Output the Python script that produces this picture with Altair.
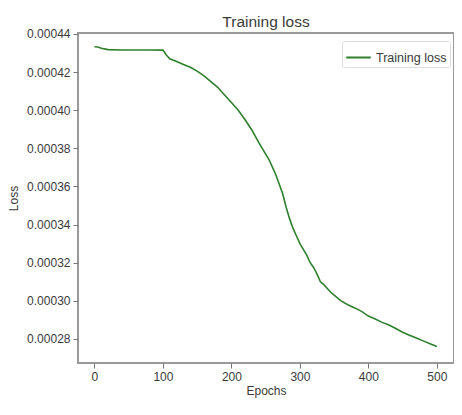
import altair as alt
import pandas as pd

epochs = [0, 5, 10, 20, 40, 60, 80, 100, 105, 110, 120, 130, 140, 150, 160, 170, 180, 190,
          200, 210, 220, 230, 240, 250, 255, 260, 265, 270, 275, 280, 285, 290, 295, 300,
          305, 310, 315, 320, 325, 330, 335, 340, 345, 350, 360, 370, 380, 390, 400, 410,
          420, 430, 440, 450, 460, 470, 480, 490, 500]
loss_e4 = [4.333, 4.332, 4.325, 4.318, 4.316, 4.316, 4.316, 4.315, 4.29, 4.27, 4.255, 4.24,
           4.225, 4.205, 4.18, 4.15, 4.12, 4.08, 4.04, 4.00, 3.95, 3.895, 3.83, 3.77, 3.74,
           3.70, 3.66, 3.61, 3.56, 3.49, 3.43, 3.38, 3.34, 3.30, 3.27, 3.24, 3.20, 3.175,
           3.14, 3.10, 3.085, 3.065, 3.045, 3.03, 3.0, 2.98, 2.963, 2.945, 2.92, 2.905,
           2.887, 2.873, 2.855, 2.835, 2.82, 2.805, 2.79, 2.775, 2.76]
series = "Training loss"
x_ticks = [0, 100, 200, 300, 400, 500]
y_ticks = [0.00028, 0.00030, 0.00032, 0.00034, 0.00036, 0.00038, 0.00040, 0.00042, 0.00044]

df = pd.DataFrame({
    "Epochs": epochs,
    "Loss": [v * 1e-4 for v in loss_e4],
    "series": [series] * len(epochs),
})

font = "Liberation Sans"
txt = "#3a3a3a"

chart = alt.Chart(df).mark_line(strokeWidth=1.6).encode(
    x=alt.X("Epochs:Q", scale=alt.Scale(domain=[-24, 525], nice=False, zero=False),
            axis=alt.Axis(values=x_ticks, title="Epochs", grid=False, titlePadding=3)),
    y=alt.Y("Loss:Q", scale=alt.Scale(domain=[0.0002674, 0.0004405], nice=False, zero=False),
            axis=alt.Axis(values=y_ticks, format=".5f", title="Loss", grid=False, titlePadding=6)),
    color=alt.Color("series:N", scale=alt.Scale(range=["#2f7f2f"]),
                    legend=alt.Legend(title=None, orient="none", legendX=264, legendY=8,
                                      strokeColor="#dddddd", padding=3, cornerRadius=2,
                                      symbolType="stroke", symbolSize=600, symbolStrokeWidth=2,
                                      labelFontSize=12.5, labelFont=font, labelColor=txt)),
).properties(
    width=376,
    height=330,
    title=alt.Title("Training loss", fontSize=15.5, fontWeight="normal", font=font,
                    color=txt, anchor="middle", offset=-3),
    padding={"left": 70, "top": 25, "right": 0, "bottom": 38},
    autosize=alt.AutoSizeParams(type="none"),
).configure_view(
    stroke="#999999", strokeWidth=2
).configure_axis(
    domain=False, tickColor="#777777", tickSize=5, labelFontSize=12, labelFont=font,
    labelColor=txt, titleFontSize=12, titleFont=font, titleColor=txt, titleFontWeight="normal",
    labelPadding=3
)

chart.save("out.html", embed_options={"renderer": "svg", "actions": False})
